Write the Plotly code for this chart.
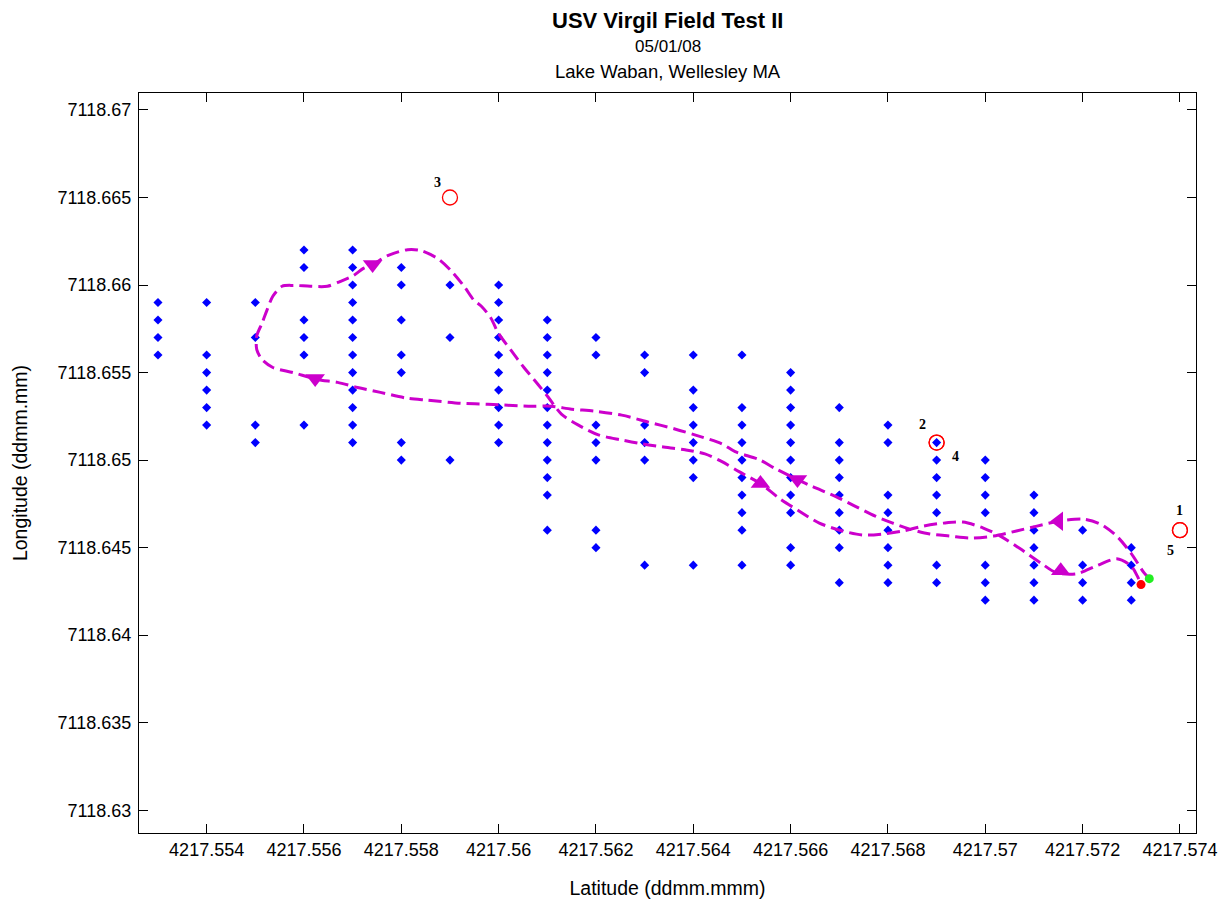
import plotly.graph_objects as go

# ---------------- data (ddmm.mmm) ----------------
grid_lat = [4217.553, 4217.554, 4217.555, 4217.556, 4217.557, 4217.558, 4217.559,
            4217.560, 4217.561, 4217.562, 4217.563, 4217.564, 4217.565, 4217.566,
            4217.567, 4217.568, 4217.569, 4217.570, 4217.571, 4217.572, 4217.573]
grid_lon = [
    [7118.659, 7118.658, 7118.657, 7118.656],
    [7118.659, 7118.656, 7118.655, 7118.654, 7118.653, 7118.652],
    [7118.659, 7118.657, 7118.652, 7118.651],
    [7118.662, 7118.661, 7118.658, 7118.657, 7118.656, 7118.652],
    [7118.662, 7118.661, 7118.660, 7118.659, 7118.658, 7118.657, 7118.656, 7118.655,
     7118.654, 7118.653, 7118.652, 7118.651],
    [7118.661, 7118.660, 7118.658, 7118.656, 7118.655, 7118.651, 7118.650],
    [7118.660, 7118.657, 7118.650],
    [7118.660, 7118.659, 7118.658, 7118.657, 7118.656, 7118.655, 7118.654, 7118.653,
     7118.652, 7118.651],
    [7118.658, 7118.657, 7118.656, 7118.655, 7118.654, 7118.653, 7118.652, 7118.651,
     7118.650, 7118.649, 7118.648, 7118.646],
    [7118.657, 7118.656, 7118.652, 7118.651, 7118.650, 7118.646, 7118.645],
    [7118.656, 7118.655, 7118.652, 7118.651, 7118.650, 7118.644],
    [7118.656, 7118.654, 7118.653, 7118.652, 7118.651, 7118.650, 7118.649, 7118.644],
    [7118.656, 7118.653, 7118.652, 7118.651, 7118.650, 7118.649, 7118.648, 7118.647,
     7118.646, 7118.644],
    [7118.655, 7118.654, 7118.653, 7118.652, 7118.651, 7118.650, 7118.649, 7118.648,
     7118.647, 7118.645, 7118.644],
    [7118.653, 7118.651, 7118.650, 7118.649, 7118.648, 7118.647, 7118.646, 7118.645,
     7118.643],
    [7118.652, 7118.651, 7118.648, 7118.647, 7118.646, 7118.645, 7118.644, 7118.643],
    [7118.651, 7118.650, 7118.649, 7118.648, 7118.647, 7118.644, 7118.643],
    [7118.650, 7118.649, 7118.648, 7118.647, 7118.644, 7118.643, 7118.642],
    [7118.648, 7118.647, 7118.646, 7118.645, 7118.644, 7118.643, 7118.642],
    [7118.646, 7118.644, 7118.643, 7118.642],
    [7118.645, 7118.644, 7118.643, 7118.642],
]

wp_lat = [4217.574, 4217.569, 4217.559, 4217.569, 4217.574]
wp_lon = [7118.646, 7118.651, 7118.665, 7118.651, 7118.646]
wp_labels = ["1", "2", "3", "4", "5"]

path_lat = [
    4217.57337, 4217.57326, 4217.57299, 4217.57270, 4217.57237, 4217.57202, 4217.57151,
    4217.57106, 4217.57064, 4217.57017, 4217.56969, 4217.56928, 4217.56886, 4217.56845,
    4217.56810, 4217.56774, 4217.56733, 4217.56692, 4217.56645, 4217.56614, 4217.56569,
    4217.56536, 4217.56486, 4217.56459, 4217.56403, 4217.56362, 4217.56308, 4217.56253,
    4217.56197, 4217.56150, 4217.56108, 4217.56061, 4217.55978, 4217.55922, 4217.55854,
    4217.55813, 4217.55757, 4217.55710, 4217.55669, 4217.55627, 4217.55578, 4217.55536,
    4217.55514, 4217.55503, 4217.55503, 4217.55514, 4217.55524, 4217.55536, 4217.55555,
    4217.55578, 4217.55613, 4217.55648, 4217.55675, 4217.55702, 4217.55722, 4217.55741,
    4217.55772, 4217.55813, 4217.55840, 4217.55875, 4217.55902, 4217.55929, 4217.55949,
    4217.55964, 4217.55984, 4217.55999, 4217.56026, 4217.56052, 4217.56081, 4217.56102,
    4217.56129, 4217.56164, 4217.56205, 4217.56253, 4217.56294, 4217.56335, 4217.56383,
    4217.56424, 4217.56459, 4217.56494, 4217.56538, 4217.56577, 4217.56618, 4217.56659,
    4217.56707, 4217.56748, 4217.56789, 4217.56831, 4217.56872, 4217.56913, 4217.56954,
    4217.56996, 4217.57031, 4217.57072, 4217.57113, 4217.57146, 4217.57188, 4217.57229,
    4217.57270, 4217.57299, 4217.57312, 4217.57320,
]
path_lon = [
    7118.64323, 7118.64357, 7118.64470, 7118.64566, 7118.64634, 7118.64663, 7118.64651,
    7118.64623, 7118.64595, 7118.64566, 7118.64555, 7118.64566, 7118.64578, 7118.64606,
    7118.64640, 7118.64680, 7118.64736, 7118.64793, 7118.64849, 7118.64889, 7118.64951,
    7118.65002, 7118.65048, 7118.65093, 7118.65144, 7118.65178, 7118.65217, 7118.65257,
    7118.65280, 7118.65291, 7118.65308, 7118.65308, 7118.65319, 7118.65325, 7118.65342,
    7118.65353, 7118.65387, 7118.65415, 7118.65444, 7118.65461, 7118.65500, 7118.65529,
    7118.65574, 7118.65631, 7118.65710, 7118.65783, 7118.65857, 7118.65936, 7118.65993,
    7118.65998, 7118.65993, 7118.65993, 7118.66021, 7118.66055, 7118.66095, 7118.66117,
    7118.66168, 7118.66202, 7118.66197, 7118.66151, 7118.66083, 7118.65993, 7118.65914,
    7118.65880, 7118.65812, 7118.65727, 7118.65625, 7118.65529, 7118.65432, 7118.65359,
    7118.65263, 7118.65200, 7118.65144, 7118.65115, 7118.65093, 7118.65076, 7118.65059,
    7118.65036, 7118.64991, 7118.64934, 7118.64866, 7118.64781, 7118.64708, 7118.64640,
    7118.64595, 7118.64572, 7118.64578, 7118.64595, 7118.64623, 7118.64640, 7118.64646,
    7118.64612, 7118.64566, 7118.64493, 7118.64414, 7118.64357, 7118.64351, 7118.64397,
    7118.64436, 7118.64397, 7118.64340, 7118.64289,
]

arrow_lat = [4217.57151, 4217.57155, 4217.56614, 4217.56538, 4217.55623, 4217.55741]
arrow_lon = [7118.64651, 7118.64368, 7118.64889, 7118.64866, 7118.65466, 7118.66117]
arrow_dir = ["triangle-left", "triangle-up", "triangle-down", "triangle-up",
             "triangle-down", "triangle-down"]

x_ticks = [4217.554, 4217.556, 4217.558, 4217.560, 4217.562, 4217.564,
           4217.566, 4217.568, 4217.570, 4217.572, 4217.574]
x_ticktext = ["4217.554", "4217.556", "4217.558", "4217.56", "4217.562", "4217.564",
              "4217.566", "4217.568", "4217.57", "4217.572", "4217.574"]
y_ticks = [7118.630, 7118.635, 7118.640, 7118.645, 7118.650,
           7118.655, 7118.660, 7118.665, 7118.670]
y_ticktext = ["7118.63", "7118.635", "7118.64", "7118.645", "7118.65",
              "7118.655", "7118.66", "7118.665", "7118.67"]

# ---------------- figure ----------------
gx, gy = [], []
for lat, lons in zip(grid_lat, grid_lon):
    for lon in lons:
        gx.append(lat)
        gy.append(lon)

MAG = "#cc00cc"
FONT = "Liberation Sans, Arial, sans-serif"

fig = go.Figure()
fig.add_trace(go.Scatter(x=gx, y=gy, mode="markers",
                         marker=dict(symbol="diamond", size=7, color="#0000ff"),
                         showlegend=False))
fig.add_trace(go.Scatter(x=wp_lat, y=wp_lon, mode="markers",
                         marker=dict(symbol="circle-open", size=15, color="#ff0000",
                                     line=dict(width=1.3, color="#ff0000")),
                         showlegend=False))
fig.add_trace(go.Scatter(x=path_lat, y=path_lon, mode="lines",
                         line=dict(color=MAG, width=3, dash="13px,6px",
                                   shape="spline", smoothing=0.8),
                         showlegend=False))
fig.add_trace(go.Scatter(x=arrow_lat, y=arrow_lon, mode="markers",
                         marker=dict(symbol=arrow_dir, size=17, color=MAG),
                         showlegend=False))
fig.add_trace(go.Scatter(x=[path_lat[-1]], y=[path_lon[-1]], mode="markers",
                         marker=dict(symbol="circle", size=9, color="#ff0000"),
                         showlegend=False))
fig.add_trace(go.Scatter(x=[path_lat[0]], y=[path_lon[0]], mode="markers",
                         marker=dict(symbol="circle", size=9, color="#22ee22"),
                         showlegend=False))

label_shift = {"1": (0, 20), "2": (-14, 18), "3": (-12, 15), "4": (19, -14), "5": (-9, -20)}
for lat, lon, lab in zip(wp_lat, wp_lon, wp_labels):
    dx, dy = label_shift[lab]
    fig.add_annotation(x=lat, y=lon, text=f"<b>{lab}</b>", showarrow=False,
                       xshift=dx, yshift=dy,
                       font=dict(family="Liberation Serif, Times New Roman, serif",
                                 size=14, color="black"))

fig.add_annotation(xref="paper", yref="paper", x=0.5, y=1.0986, yanchor="middle",
                   text="<b>USV Virgil Field Test II</b>", showarrow=False,
                   font=dict(family=FONT, size=22, color="black"))
fig.add_annotation(xref="paper", yref="paper", x=0.5, y=1.0622, yanchor="middle",
                   text="05/01/08", showarrow=False,
                   font=dict(family=FONT, size=17, color="black"))
fig.add_annotation(xref="paper", yref="paper", x=0.5, y=1.0284, yanchor="middle",
                   text="Lake Waban, Wellesley MA", showarrow=False,
                   font=dict(family=FONT, size=18.5, color="black"))

axis_common = dict(showgrid=False, zeroline=False, showline=True, linecolor="black",
                   linewidth=1.3, mirror="allticks", ticks="inside", ticklen=9,
                   tickcolor="black", tickwidth=1.2, automargin=False,
                   tickfont=dict(family=FONT, size=18, color="black"))

fig.update_layout(
    width=1226, height=903,
    margin=dict(l=139, r=30, t=93, b=70, pad=0, autoexpand=False),
    paper_bgcolor="white", plot_bgcolor="white",
    xaxis=dict(range=[4217.55261, 4217.57433], tickvals=x_ticks, ticktext=x_ticktext,
               title=dict(text="Latitude (ddmm.mmm)", standoff=22,
                          font=dict(family=FONT, size=19.5, color="black")),
               **axis_common),
    yaxis=dict(range=[7118.62870, 7118.67097], tickvals=y_ticks, ticktext=y_ticktext,
               ticklabelstandoff=3,
               title=dict(text="Longitude (ddmm.mm)", standoff=24,
                          font=dict(family=FONT, size=19.5, color="black")),
               **axis_common),
)

fig.write_html("out.html", config={"displayModeBar": False},
               post_script="document.body.style.margin='0px';")
